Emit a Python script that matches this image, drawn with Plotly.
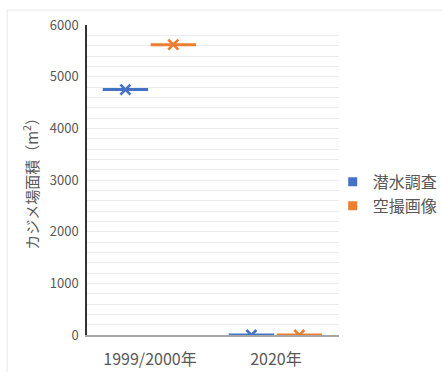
import plotly.graph_objects as go

# Kelp-bed area per survey period, two survey methods
categories = ["1999/2000年", "2020年"]
series_names = ["潜水調査", "空撮画像"]
diving_survey = [4750, 0]
aerial_imagery = [5620, 0]
y_ticks = [0, 1000, 2000, 3000, 4000, 5000, 6000]

series_values = [diving_survey, aerial_imagery]
series_colors = ["#4472C4", "#ED7D31"]
series_offsets = [-0.195, 0.185]
half_width = 0.18

FONT = "Noto Sans CJK JP"
TEXT_GRAY = "#595959"

fig = go.Figure()

for name, values, color, off in zip(series_names, series_values, series_colors, series_offsets):
    xs, ys = [], []
    for i, v in enumerate(values):
        xs += [i + off - half_width, i + off + half_width, None]
        ys += [v, v, None]
    # flat box line (single observation per group)
    fig.add_trace(go.Scatter(
        x=xs, y=ys, mode="lines",
        line=dict(color=color, width=3),
        showlegend=False, hoverinfo="skip",
    ))
    # mean marker
    fig.add_trace(go.Scatter(
        x=[i + off for i in range(len(values))], y=values, mode="markers",
        marker=dict(symbol="x-thin", size=10, line=dict(color=color, width=2.6)),
        showlegend=False, name=name,
    ))
    # legend entry
    fig.add_trace(go.Scatter(
        x=[None], y=[None], mode="markers", name=name,
        marker=dict(symbol="square", size=9, color=color),
    ))

fig.update_layout(
    width=442, height=372,
    margin=dict(l=87, r=103, t=25, b=37, autoexpand=False),
    paper_bgcolor="white", plot_bgcolor="white",
    font=dict(family=FONT, color=TEXT_GRAY),
    showlegend=True,
    legend=dict(
        x=0.975, y=0.455, xanchor="left", yanchor="middle",
        font=dict(family=FONT, size=16, color=TEXT_GRAY),
        itemwidth=30, tracegroupgap=0, bgcolor="rgba(0,0,0,0)",
    ),
    shapes=[dict(
        type="rect", xref="paper", yref="paper",
        x0=-0.317, x1=1.45, y0=-0.2, y1=1.048,
        line=dict(color="#e6e6e6", width=1), layer="below",
    )],
)

fig.update_xaxes(
    range=[-0.5, 1.5],
    tickmode="array", tickvals=list(range(len(categories))), ticktext=categories,
    tickfont=dict(family=FONT, size=16, color=TEXT_GRAY),
    showgrid=False, zeroline=False,
    showline=True, linecolor="#a6a6a6", linewidth=1.5,
    ticks="", ticklabelstandoff=9, fixedrange=True,
)

fig.update_yaxes(
    range=[0, 6000],
    tickmode="array", tickvals=y_ticks,
    tickfont=dict(family=FONT, size=13, color=TEXT_GRAY),
    showgrid=True, gridcolor="#ececec", gridwidth=1,
    minor=dict(dtick=200, showgrid=True, gridcolor="#ececec", gridwidth=1),
    zeroline=False,
    showline=True, linecolor="#333333", linewidth=1.5,
    ticks="", ticklabelstandoff=4,
    title=dict(text="カジメ場面積（m<sup>2</sup>）", font=dict(family=FONT, size=15, color=TEXT_GRAY), standoff=8),
    fixedrange=True,
)

fig.write_html("out.html")
